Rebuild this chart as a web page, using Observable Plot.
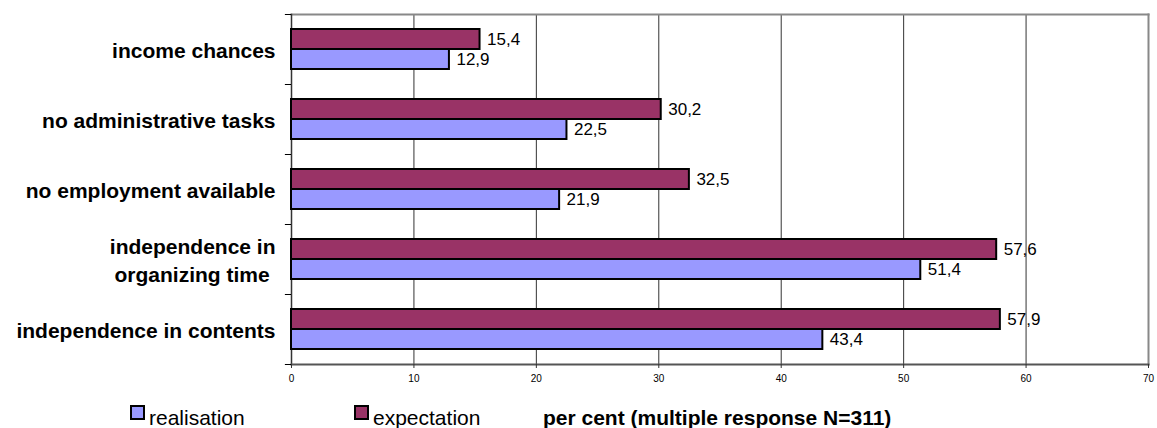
<!DOCTYPE html>
<html>
<head>
<meta charset="utf-8">
<script src="https://cdn.jsdelivr.net/npm/d3@7"></script>
<script src="https://cdn.jsdelivr.net/npm/@observablehq/plot@0.6"></script>
<style>
  body { margin: 0; background: #fff; font-family: "Liberation Sans", Arial, sans-serif; }
  #chart { position: relative; width: 1157px; }
  #legend { position: relative; width: 1157px; height: 43px; font-size: 21px; line-height: 21px; color: #000; }
  #legend .sw { position: absolute; top: 20px; width: 11px; height: 11px; border: 2px solid #000; }
  #legend .lbl { position: absolute; top: 22px; }
  #legend .note { position: absolute; top: 22px; left: 543px; font-weight: bold; }
</style>
</head>
<body>
<div id="chart"></div>
<div id="legend">
  <span class="sw" style="left:130px;background:#9999ff"></span><span class="lbl" style="left:149px">realisation</span>
  <span class="sw" style="left:354px;background:#993366"></span><span class="lbl" style="left:373px">expectation</span>
  <span class="note">per cent (multiple response N=311)</span>
</div>
<script>
// Reasons, top to bottom
const categories = [
  "income chances",
  "no administrative tasks",
  "no employment available",
  "independence in\norganizing time\u00a0",
  "independence in contents"
];
const expectation = [15.4, 30.2, 32.5, 57.6, 57.9];
const realisation = [12.9, 22.5, 21.9, 51.4, 43.4];
const xTicks = [0, 10, 20, 30, 40, 50, 60, 70];

const colors = { expectation: "#993366", realisation: "#9999ff" };

const rowsExp = categories.map((c, i) => ({ category: c, value: expectation[i] }));
const rowsReal = categories.map((c, i) => ({ category: c, value: realisation[i] }));
const fmt = v => v.toFixed(1).replace(".", ",");

const chart = Plot.plot({
  width: 1157,
  height: 385,
  marginTop: 14,
  marginBottom: 21,
  marginLeft: 291,
  marginRight: 9,
  style: { fontFamily: "Liberation Sans, Arial, sans-serif", background: "#fff" },
  x: { domain: [0, 70], ticks: xTicks, label: null },
  y: { domain: categories, padding: 0, label: null },
  marks: [
    // gridlines
    Plot.ruleX(xTicks.slice(1, -1), { stroke: "#333", strokeWidth: 1 }),
    // plot area border: grey top/right, dark left/bottom
    Plot.frame({ anchor: "top", stroke: "#888", strokeWidth: 2 }),
    Plot.frame({ anchor: "right", stroke: "#888", strokeWidth: 2 }),
    Plot.frame({ anchor: "left", stroke: "#333", strokeWidth: 1.5 }),
    Plot.frame({ anchor: "bottom", stroke: "#555", strokeWidth: 2 }),
    // bars
    Plot.barX(rowsExp, {
      y: "category", x: "value", fill: colors.expectation,
      stroke: "#000", strokeWidth: 2, insetTop: 15, insetBottom: 35
    }),
    Plot.barX(rowsReal, {
      y: "category", x: "value", fill: colors.realisation,
      stroke: "#000", strokeWidth: 2, insetTop: 35, insetBottom: 15
    }),
    // value labels
    Plot.text(rowsExp, {
      y: "category", x: "value", text: d => fmt(d.value),
      dy: -10, dx: 7, textAnchor: "start", fontSize: 17, fill: "#000"
    }),
    Plot.text(rowsReal, {
      y: "category", x: "value", text: d => fmt(d.value),
      dy: 10, dx: 7, textAnchor: "start", fontSize: 17, fill: "#000"
    }),
    // ticks between categories on the left axis
    Plot.ruleY(categories, { y: d => d, dy: -35, x1: -0.5, x2: 0, stroke: "#000", strokeWidth: 1 }),
    Plot.ruleY([categories[categories.length - 1]], { y: d => d, dy: 35, x1: -0.5, x2: 0, stroke: "#000", strokeWidth: 1 }),
    // category labels
    Plot.axisY({
      tickSize: 0, tickPadding: 16, fontSize: 21, fontWeight: "bold",
      lineHeight: 1.33, fill: "#000", label: null
    }),
    // x axis
    Plot.axisX({
      ticks: xTicks, tickSize: 4, tickPadding: 6, fontSize: 10,
      stroke: "#333", fill: "#000", label: null
    })
  ]
});

document.getElementById("chart").appendChild(chart);
</script>
</body>
</html>
